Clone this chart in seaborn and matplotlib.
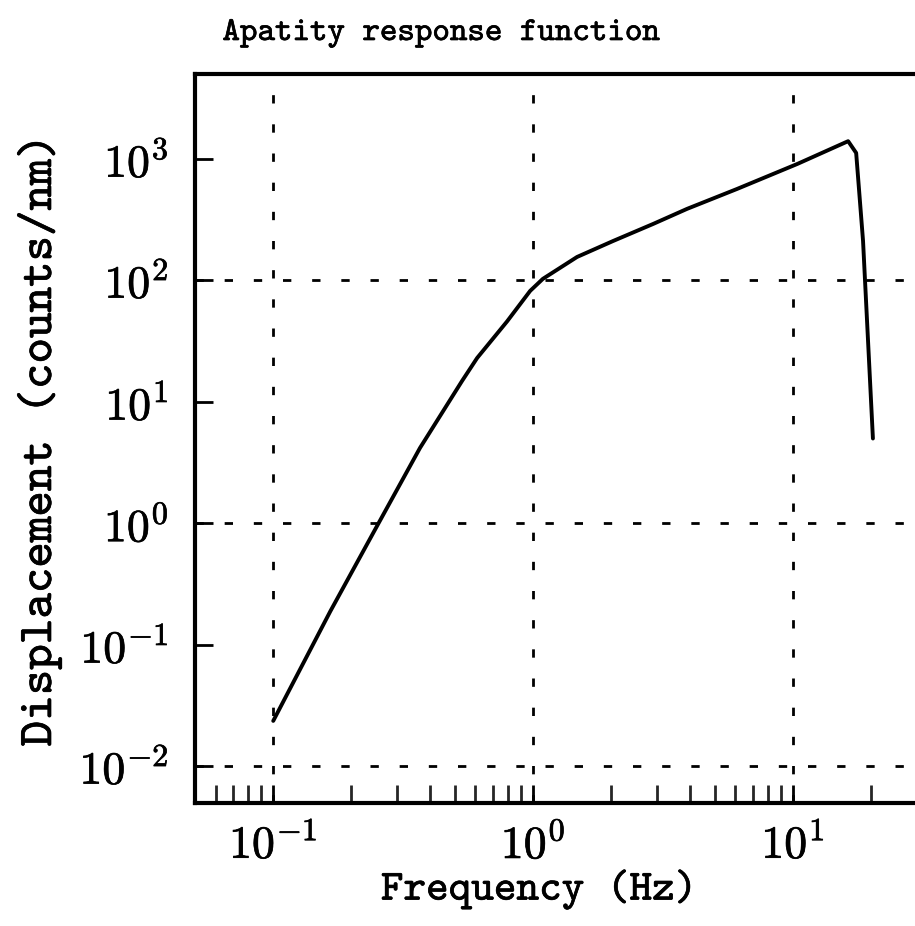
import numpy as np
import pandas as pd
import matplotlib
matplotlib.use('Agg')
import matplotlib.pyplot as plt
import matplotlib.ticker as mticker
import matplotlib.patheffects as pe
import seaborn as sns

sns.set_style('white')
plt.rcParams['font.family'] = ['cmtt10', 'DejaVu Serif']
plt.rcParams['mathtext.fontset'] = 'cm'
plt.rcParams['text.color'] = 'black'
plt.rcParams['axes.labelcolor'] = 'black'

# curve
freq = [0.1, 0.166, 0.254, 0.367, 0.533, 0.609, 0.794, 0.974, 1.09, 1.476,
        2.03, 2.90, 3.91, 6.09, 10.4, 16.3, 17.5, 18.6, 20.3]
disp = [0.0237, 0.19, 1.0, 4.18, 14.9, 23, 46, 82, 103, 156,
        211, 292, 388, 566, 910, 1400, 1120, 211, 5.0]

x_grid = [0.1, 1, 10]
y_grid = [1e-2, 1, 1e2]
y_ticks = [1e-2, 1e-1, 1, 1e1, 1e2, 1e3]

df = pd.DataFrame({'freq': freq, 'disp': disp})

# slightly heavier strokes, like the old print
ink = [pe.withStroke(linewidth=0.5, foreground='black')]

def pow10(v, pos):
    return r'$10^{%d}$' % int(round(np.log10(v)))

fig = plt.figure(figsize=(9.15, 9.26), dpi=100)
ax = fig.add_axes([195/915, 123/926, 722/915, 729/926])

sns.lineplot(data=df, x='freq', y='disp', ax=ax, color='black', lw=2.8,
             sort=False, estimator=None)

ax.set_xscale('log')
ax.set_yscale('log')
ax.set_xlim(0.05, 30)
ax.set_ylim(0.005, 5000)

for xv in x_grid:
    ax.axvline(xv, color='black', lw=2, ls=(0, (3, 7.5)), zorder=1)
for yv in y_grid:
    ax.axhline(yv, color='black', lw=2, ls=(0, (3, 7.5)), zorder=1)

ax.set_yticks(y_ticks)
ax.yaxis.set_minor_locator(mticker.NullLocator())
ax.xaxis.set_major_locator(mticker.LogLocator(base=10, numticks=10))
ax.xaxis.set_minor_locator(mticker.LogLocator(base=10, subs=np.arange(2, 10), numticks=20))
ax.xaxis.set_minor_formatter(mticker.NullFormatter())
ax.xaxis.set_major_formatter(mticker.FuncFormatter(pow10))
ax.yaxis.set_major_formatter(mticker.FuncFormatter(pow10))

ax.tick_params(axis='both', which='major', direction='in', length=13, width=2,
               labelsize=33, colors='black')
ax.tick_params(axis='x', which='minor', direction='in', length=13, width=2,
               bottom=True)
ax.tick_params(axis='y', which='major', pad=19, left=True)
ax.tick_params(axis='x', which='major', pad=14, bottom=True)

for side in ['left', 'bottom', 'top', 'right']:
    ax.spines[side].set_color('black')
    ax.spines[side].set_linewidth(3)

ax.set_xlabel('Frequency (Hz)', fontsize=31)
ax.set_ylabel('Displacement (counts/nm)', fontsize=35)
ax.xaxis.set_label_coords((539 - 195) / 722, -0.092)
ax.yaxis.set_label_coords(-(195 - 62) / 722, 0.498)
ttl = fig.text(441/915, 886/926, 'Apatity response function', fontsize=24,
               ha='center', va='baseline')

for t in [ttl, ax.xaxis.label, ax.yaxis.label] + ax.get_xticklabels() + ax.get_yticklabels():
    t.set_path_effects(ink)

fig.savefig('out.png', dpi=100)
